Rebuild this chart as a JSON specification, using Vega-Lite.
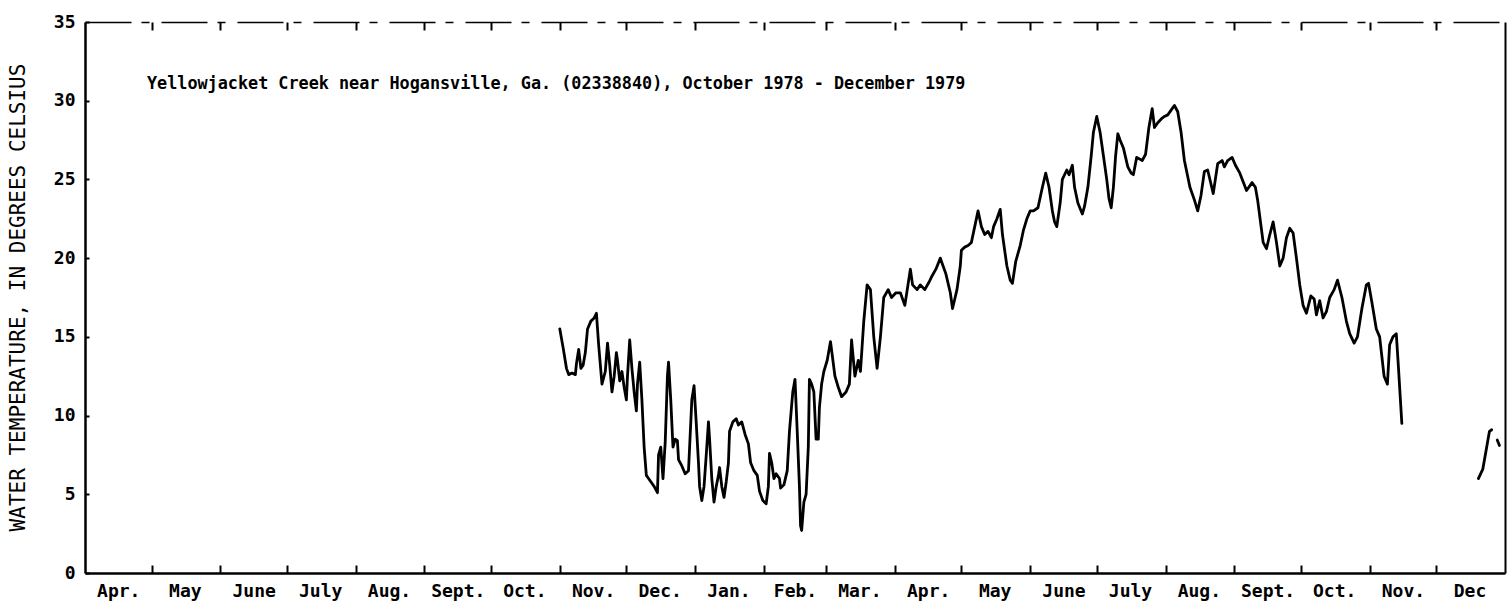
{
  "$schema": "https://vega.github.io/schema/vega-lite/v6.json",
  "width": 1420,
  "height": 551,
  "autosize": "none",
  "padding": {"left": 85, "top": 22, "right": 3, "bottom": 38},
  "background": "white",
  "config": {
    "view": {"stroke": null},
    "font": "DejaVu Sans Mono"
  },
  "title": {
    "text": "Yellowjacket Creek near Hogansville, Ga. (02338840), October 1978 - December 1979",
    "anchor": "start",
    "frame": "group",
    "orient": "top",
    "baseline": "middle",
    "offset": -88,
    "dx": 62,
    "font": "DejaVu Sans Mono",
    "fontSize": 16.8,
    "fontWeight": "bold",
    "color": "black"
  },
  "resolve": {"axis": {"x": "independent", "y": "independent"}},
  "layer": [
    {
      "data": {
        "values": [
          {"date": "1978-11-01T00:00", "temp": 15.5, "run": 1},
          {"date": "1978-11-02T12:00", "temp": 14.3, "run": 1},
          {"date": "1978-11-04T00:00", "temp": 13.0, "run": 1},
          {"date": "1978-11-05T00:00", "temp": 12.6, "run": 1},
          {"date": "1978-11-06T12:00", "temp": 12.7, "run": 1},
          {"date": "1978-11-08T00:00", "temp": 12.6, "run": 1},
          {"date": "1978-11-08T12:00", "temp": 13.3, "run": 1},
          {"date": "1978-11-09T12:00", "temp": 14.2, "run": 1},
          {"date": "1978-11-10T12:00", "temp": 13.0, "run": 1},
          {"date": "1978-11-11T12:00", "temp": 13.2, "run": 1},
          {"date": "1978-11-12T12:00", "temp": 14.0, "run": 1},
          {"date": "1978-11-13T12:00", "temp": 15.5, "run": 1},
          {"date": "1978-11-15T00:00", "temp": 16.0, "run": 1},
          {"date": "1978-11-16T12:00", "temp": 16.2, "run": 1},
          {"date": "1978-11-17T12:00", "temp": 16.5, "run": 1},
          {"date": "1978-11-18T12:00", "temp": 14.5, "run": 1},
          {"date": "1978-11-20T00:00", "temp": 12.0, "run": 1},
          {"date": "1978-11-21T12:00", "temp": 12.8, "run": 1},
          {"date": "1978-11-22T12:00", "temp": 14.6, "run": 1},
          {"date": "1978-11-23T12:00", "temp": 13.2, "run": 1},
          {"date": "1978-11-24T12:00", "temp": 11.5, "run": 1},
          {"date": "1978-11-25T12:00", "temp": 12.5, "run": 1},
          {"date": "1978-11-26T12:00", "temp": 14.0, "run": 1},
          {"date": "1978-11-27T00:00", "temp": 13.5, "run": 1},
          {"date": "1978-11-28T00:00", "temp": 12.2, "run": 1},
          {"date": "1978-11-29T00:00", "temp": 12.8, "run": 1},
          {"date": "1978-11-30T00:00", "temp": 11.8, "run": 1},
          {"date": "1978-12-01T00:00", "temp": 11.0, "run": 1},
          {"date": "1978-12-01T12:00", "temp": 12.5, "run": 1},
          {"date": "1978-12-02T12:00", "temp": 14.8, "run": 1},
          {"date": "1978-12-03T12:00", "temp": 13.0, "run": 1},
          {"date": "1978-12-04T12:00", "temp": 11.5, "run": 1},
          {"date": "1978-12-05T12:00", "temp": 10.3, "run": 1},
          {"date": "1978-12-06T00:00", "temp": 12.0, "run": 1},
          {"date": "1978-12-07T00:00", "temp": 13.4, "run": 1},
          {"date": "1978-12-08T00:00", "temp": 11.0, "run": 1},
          {"date": "1978-12-09T00:00", "temp": 8.0, "run": 1},
          {"date": "1978-12-10T00:00", "temp": 6.2, "run": 1},
          {"date": "1978-12-11T00:00", "temp": 6.0, "run": 1},
          {"date": "1978-12-12T12:00", "temp": 5.7, "run": 1},
          {"date": "1978-12-13T12:00", "temp": 5.5, "run": 1},
          {"date": "1978-12-15T00:00", "temp": 5.1, "run": 1},
          {"date": "1978-12-15T12:00", "temp": 7.5, "run": 1},
          {"date": "1978-12-16T12:00", "temp": 8.0, "run": 1},
          {"date": "1978-12-17T12:00", "temp": 6.0, "run": 1},
          {"date": "1978-12-18T12:00", "temp": 8.3, "run": 1},
          {"date": "1978-12-19T12:00", "temp": 12.5, "run": 1},
          {"date": "1978-12-20T00:00", "temp": 13.4, "run": 1},
          {"date": "1978-12-21T00:00", "temp": 11.0, "run": 1},
          {"date": "1978-12-22T00:00", "temp": 8.0, "run": 1},
          {"date": "1978-12-23T00:00", "temp": 8.5, "run": 1},
          {"date": "1978-12-24T00:00", "temp": 8.4, "run": 1},
          {"date": "1978-12-24T12:00", "temp": 7.2, "run": 1},
          {"date": "1978-12-26T00:00", "temp": 6.8, "run": 1},
          {"date": "1978-12-27T12:00", "temp": 6.3, "run": 1},
          {"date": "1978-12-29T00:00", "temp": 6.5, "run": 1},
          {"date": "1978-12-29T12:00", "temp": 8.0, "run": 1},
          {"date": "1978-12-30T12:00", "temp": 11.0, "run": 1},
          {"date": "1978-12-31T12:00", "temp": 11.9, "run": 1},
          {"date": "1979-01-01T12:00", "temp": 9.5, "run": 1},
          {"date": "1979-01-02T12:00", "temp": 7.0, "run": 1},
          {"date": "1979-01-03T00:00", "temp": 5.5, "run": 1},
          {"date": "1979-01-04T00:00", "temp": 4.6, "run": 1},
          {"date": "1979-01-05T00:00", "temp": 5.5, "run": 1},
          {"date": "1979-01-06T00:00", "temp": 7.5, "run": 1},
          {"date": "1979-01-07T00:00", "temp": 9.6, "run": 1},
          {"date": "1979-01-07T12:00", "temp": 8.5, "run": 1},
          {"date": "1979-01-08T12:00", "temp": 6.0, "run": 1},
          {"date": "1979-01-09T12:00", "temp": 4.5, "run": 1},
          {"date": "1979-01-10T12:00", "temp": 5.5, "run": 1},
          {"date": "1979-01-11T12:00", "temp": 6.2, "run": 1},
          {"date": "1979-01-12T00:00", "temp": 6.7, "run": 1},
          {"date": "1979-01-13T00:00", "temp": 5.5, "run": 1},
          {"date": "1979-01-14T00:00", "temp": 4.8, "run": 1},
          {"date": "1979-01-15T00:00", "temp": 5.8, "run": 1},
          {"date": "1979-01-16T00:00", "temp": 7.0, "run": 1},
          {"date": "1979-01-16T12:00", "temp": 9.0, "run": 1},
          {"date": "1979-01-18T00:00", "temp": 9.6, "run": 1},
          {"date": "1979-01-19T12:00", "temp": 9.8, "run": 1},
          {"date": "1979-01-20T12:00", "temp": 9.4, "run": 1},
          {"date": "1979-01-22T00:00", "temp": 9.6, "run": 1},
          {"date": "1979-01-23T12:00", "temp": 8.8, "run": 1},
          {"date": "1979-01-25T00:00", "temp": 8.2, "run": 1},
          {"date": "1979-01-26T00:00", "temp": 7.0, "run": 1},
          {"date": "1979-01-27T12:00", "temp": 6.5, "run": 1},
          {"date": "1979-01-29T00:00", "temp": 6.2, "run": 1},
          {"date": "1979-01-30T00:00", "temp": 5.2, "run": 1},
          {"date": "1979-01-31T12:00", "temp": 4.6, "run": 1},
          {"date": "1979-02-02T00:00", "temp": 4.4, "run": 1},
          {"date": "1979-02-03T00:00", "temp": 5.5, "run": 1},
          {"date": "1979-02-03T12:00", "temp": 7.6, "run": 1},
          {"date": "1979-02-04T12:00", "temp": 7.0, "run": 1},
          {"date": "1979-02-05T12:00", "temp": 6.0, "run": 1},
          {"date": "1979-02-06T12:00", "temp": 6.3, "run": 1},
          {"date": "1979-02-08T00:00", "temp": 6.0, "run": 1},
          {"date": "1979-02-08T12:00", "temp": 5.4, "run": 1},
          {"date": "1979-02-10T00:00", "temp": 5.6, "run": 1},
          {"date": "1979-02-11T12:00", "temp": 6.5, "run": 1},
          {"date": "1979-02-12T12:00", "temp": 9.0, "run": 1},
          {"date": "1979-02-14T00:00", "temp": 11.5, "run": 1},
          {"date": "1979-02-15T00:00", "temp": 12.3, "run": 1},
          {"date": "1979-02-16T00:00", "temp": 9.0, "run": 1},
          {"date": "1979-02-17T00:00", "temp": 5.5, "run": 1},
          {"date": "1979-02-17T12:00", "temp": 3.0, "run": 1},
          {"date": "1979-02-18T00:00", "temp": 2.7, "run": 1},
          {"date": "1979-02-19T00:00", "temp": 4.5, "run": 1},
          {"date": "1979-02-20T00:00", "temp": 5.0, "run": 1},
          {"date": "1979-02-21T00:00", "temp": 8.0, "run": 1},
          {"date": "1979-02-21T12:00", "temp": 12.3, "run": 1},
          {"date": "1979-02-22T12:00", "temp": 12.0, "run": 1},
          {"date": "1979-02-23T12:00", "temp": 11.5, "run": 1},
          {"date": "1979-02-24T12:00", "temp": 8.5, "run": 1},
          {"date": "1979-02-25T12:00", "temp": 8.5, "run": 1},
          {"date": "1979-02-26T00:00", "temp": 10.5, "run": 1},
          {"date": "1979-02-27T00:00", "temp": 12.0, "run": 1},
          {"date": "1979-02-28T00:00", "temp": 12.8, "run": 1},
          {"date": "1979-03-01T12:00", "temp": 13.5, "run": 1},
          {"date": "1979-03-03T00:00", "temp": 14.7, "run": 1},
          {"date": "1979-03-05T00:00", "temp": 12.5, "run": 1},
          {"date": "1979-03-06T12:00", "temp": 11.8, "run": 1},
          {"date": "1979-03-08T00:00", "temp": 11.2, "run": 1},
          {"date": "1979-03-10T00:00", "temp": 11.5, "run": 1},
          {"date": "1979-03-11T12:00", "temp": 12.0, "run": 1},
          {"date": "1979-03-12T12:00", "temp": 14.8, "run": 1},
          {"date": "1979-03-14T00:00", "temp": 12.5, "run": 1},
          {"date": "1979-03-15T12:00", "temp": 13.5, "run": 1},
          {"date": "1979-03-16T12:00", "temp": 12.8, "run": 1},
          {"date": "1979-03-18T00:00", "temp": 16.0, "run": 1},
          {"date": "1979-03-19T12:00", "temp": 18.3, "run": 1},
          {"date": "1979-03-21T00:00", "temp": 18.0, "run": 1},
          {"date": "1979-03-22T12:00", "temp": 15.0, "run": 1},
          {"date": "1979-03-24T00:00", "temp": 13.0, "run": 1},
          {"date": "1979-03-25T12:00", "temp": 15.0, "run": 1},
          {"date": "1979-03-27T00:00", "temp": 17.5, "run": 1},
          {"date": "1979-03-29T00:00", "temp": 18.0, "run": 1},
          {"date": "1979-03-30T12:00", "temp": 17.5, "run": 1},
          {"date": "1979-04-01T12:00", "temp": 17.8, "run": 1},
          {"date": "1979-04-03T12:00", "temp": 17.8, "run": 1},
          {"date": "1979-04-05T12:00", "temp": 17.0, "run": 1},
          {"date": "1979-04-08T00:00", "temp": 19.3, "run": 1},
          {"date": "1979-04-09T00:00", "temp": 18.3, "run": 1},
          {"date": "1979-04-11T00:00", "temp": 18.0, "run": 1},
          {"date": "1979-04-12T12:00", "temp": 18.3, "run": 1},
          {"date": "1979-04-14T12:00", "temp": 18.0, "run": 1},
          {"date": "1979-04-16T12:00", "temp": 18.5, "run": 1},
          {"date": "1979-04-17T12:00", "temp": 18.8, "run": 1},
          {"date": "1979-04-19T12:00", "temp": 19.3, "run": 1},
          {"date": "1979-04-21T12:00", "temp": 20.0, "run": 1},
          {"date": "1979-04-22T12:00", "temp": 19.6, "run": 1},
          {"date": "1979-04-24T00:00", "temp": 19.0, "run": 1},
          {"date": "1979-04-26T00:00", "temp": 17.8, "run": 1},
          {"date": "1979-04-27T00:00", "temp": 16.8, "run": 1},
          {"date": "1979-04-29T00:00", "temp": 18.0, "run": 1},
          {"date": "1979-04-30T12:00", "temp": 19.5, "run": 1},
          {"date": "1979-05-01T00:00", "temp": 20.5, "run": 1},
          {"date": "1979-05-02T12:00", "temp": 20.7, "run": 1},
          {"date": "1979-05-04T00:00", "temp": 20.8, "run": 1},
          {"date": "1979-05-05T12:00", "temp": 21.0, "run": 1},
          {"date": "1979-05-07T00:00", "temp": 22.0, "run": 1},
          {"date": "1979-05-08T12:00", "temp": 23.0, "run": 1},
          {"date": "1979-05-10T00:00", "temp": 22.0, "run": 1},
          {"date": "1979-05-11T12:00", "temp": 21.5, "run": 1},
          {"date": "1979-05-13T00:00", "temp": 21.7, "run": 1},
          {"date": "1979-05-14T12:00", "temp": 21.3, "run": 1},
          {"date": "1979-05-15T12:00", "temp": 22.0, "run": 1},
          {"date": "1979-05-17T00:00", "temp": 22.5, "run": 1},
          {"date": "1979-05-18T12:00", "temp": 23.1, "run": 1},
          {"date": "1979-05-19T12:00", "temp": 21.5, "run": 1},
          {"date": "1979-05-21T12:00", "temp": 19.5, "run": 1},
          {"date": "1979-05-23T00:00", "temp": 18.6, "run": 1},
          {"date": "1979-05-24T00:00", "temp": 18.4, "run": 1},
          {"date": "1979-05-25T12:00", "temp": 19.8, "run": 1},
          {"date": "1979-05-27T12:00", "temp": 20.8, "run": 1},
          {"date": "1979-05-29T00:00", "temp": 21.8, "run": 1},
          {"date": "1979-05-30T12:00", "temp": 22.5, "run": 1},
          {"date": "1979-06-01T00:00", "temp": 23.0, "run": 1},
          {"date": "1979-06-02T12:00", "temp": 23.0, "run": 1},
          {"date": "1979-06-04T12:00", "temp": 23.2, "run": 1},
          {"date": "1979-06-06T12:00", "temp": 24.5, "run": 1},
          {"date": "1979-06-08T00:00", "temp": 25.4, "run": 1},
          {"date": "1979-06-09T12:00", "temp": 24.5, "run": 1},
          {"date": "1979-06-11T00:00", "temp": 23.0, "run": 1},
          {"date": "1979-06-12T00:00", "temp": 22.3, "run": 1},
          {"date": "1979-06-13T00:00", "temp": 22.0, "run": 1},
          {"date": "1979-06-14T12:00", "temp": 23.5, "run": 1},
          {"date": "1979-06-15T12:00", "temp": 25.0, "run": 1},
          {"date": "1979-06-17T12:00", "temp": 25.6, "run": 1},
          {"date": "1979-06-18T12:00", "temp": 25.3, "run": 1},
          {"date": "1979-06-20T00:00", "temp": 25.9, "run": 1},
          {"date": "1979-06-21T00:00", "temp": 24.5, "run": 1},
          {"date": "1979-06-22T12:00", "temp": 23.5, "run": 1},
          {"date": "1979-06-24T12:00", "temp": 22.8, "run": 1},
          {"date": "1979-06-25T12:00", "temp": 23.3, "run": 1},
          {"date": "1979-06-27T00:00", "temp": 24.5, "run": 1},
          {"date": "1979-06-28T12:00", "temp": 26.5, "run": 1},
          {"date": "1979-06-29T12:00", "temp": 28.0, "run": 1},
          {"date": "1979-07-01T00:00", "temp": 29.0, "run": 1},
          {"date": "1979-07-02T12:00", "temp": 28.0, "run": 1},
          {"date": "1979-07-04T00:00", "temp": 26.5, "run": 1},
          {"date": "1979-07-05T12:00", "temp": 25.0, "run": 1},
          {"date": "1979-07-06T12:00", "temp": 23.8, "run": 1},
          {"date": "1979-07-07T12:00", "temp": 23.2, "run": 1},
          {"date": "1979-07-08T12:00", "temp": 24.5, "run": 1},
          {"date": "1979-07-09T12:00", "temp": 26.5, "run": 1},
          {"date": "1979-07-10T12:00", "temp": 27.9, "run": 1},
          {"date": "1979-07-11T12:00", "temp": 27.5, "run": 1},
          {"date": "1979-07-13T00:00", "temp": 27.0, "run": 1},
          {"date": "1979-07-15T00:00", "temp": 25.8, "run": 1},
          {"date": "1979-07-16T12:00", "temp": 25.4, "run": 1},
          {"date": "1979-07-17T12:00", "temp": 25.3, "run": 1},
          {"date": "1979-07-19T00:00", "temp": 26.4, "run": 1},
          {"date": "1979-07-21T12:00", "temp": 26.2, "run": 1},
          {"date": "1979-07-23T00:00", "temp": 26.6, "run": 1},
          {"date": "1979-07-24T12:00", "temp": 28.3, "run": 1},
          {"date": "1979-07-26T00:00", "temp": 29.5, "run": 1},
          {"date": "1979-07-27T00:00", "temp": 28.3, "run": 1},
          {"date": "1979-07-28T12:00", "temp": 28.6, "run": 1},
          {"date": "1979-07-30T12:00", "temp": 28.9, "run": 1},
          {"date": "1979-07-31T12:00", "temp": 29.0, "run": 1},
          {"date": "1979-08-02T00:00", "temp": 29.1, "run": 1},
          {"date": "1979-08-04T00:00", "temp": 29.5, "run": 1},
          {"date": "1979-08-05T00:00", "temp": 29.7, "run": 1},
          {"date": "1979-08-06T12:00", "temp": 29.3, "run": 1},
          {"date": "1979-08-08T00:00", "temp": 28.0, "run": 1},
          {"date": "1979-08-09T12:00", "temp": 26.2, "run": 1},
          {"date": "1979-08-12T00:00", "temp": 24.5, "run": 1},
          {"date": "1979-08-14T00:00", "temp": 23.7, "run": 1},
          {"date": "1979-08-15T12:00", "temp": 23.0, "run": 1},
          {"date": "1979-08-17T00:00", "temp": 24.0, "run": 1},
          {"date": "1979-08-18T12:00", "temp": 25.5, "run": 1},
          {"date": "1979-08-20T00:00", "temp": 25.6, "run": 1},
          {"date": "1979-08-22T12:00", "temp": 24.1, "run": 1},
          {"date": "1979-08-24T12:00", "temp": 26.0, "run": 1},
          {"date": "1979-08-26T12:00", "temp": 26.2, "run": 1},
          {"date": "1979-08-27T12:00", "temp": 25.8, "run": 1},
          {"date": "1979-08-29T00:00", "temp": 26.2, "run": 1},
          {"date": "1979-08-31T00:00", "temp": 26.4, "run": 1},
          {"date": "1979-09-01T12:00", "temp": 25.9, "run": 1},
          {"date": "1979-09-03T12:00", "temp": 25.4, "run": 1},
          {"date": "1979-09-06T12:00", "temp": 24.3, "run": 1},
          {"date": "1979-09-09T00:00", "temp": 24.8, "run": 1},
          {"date": "1979-09-10T12:00", "temp": 24.5, "run": 1},
          {"date": "1979-09-11T12:00", "temp": 23.7, "run": 1},
          {"date": "1979-09-14T00:00", "temp": 21.0, "run": 1},
          {"date": "1979-09-15T12:00", "temp": 20.6, "run": 1},
          {"date": "1979-09-17T00:00", "temp": 21.5, "run": 1},
          {"date": "1979-09-18T12:00", "temp": 22.3, "run": 1},
          {"date": "1979-09-20T00:00", "temp": 21.0, "run": 1},
          {"date": "1979-09-21T12:00", "temp": 19.5, "run": 1},
          {"date": "1979-09-23T00:00", "temp": 20.0, "run": 1},
          {"date": "1979-09-24T12:00", "temp": 21.3, "run": 1},
          {"date": "1979-09-26T00:00", "temp": 21.9, "run": 1},
          {"date": "1979-09-27T12:00", "temp": 21.6, "run": 1},
          {"date": "1979-09-29T00:00", "temp": 20.0, "run": 1},
          {"date": "1979-09-30T12:00", "temp": 18.3, "run": 1},
          {"date": "1979-10-02T00:00", "temp": 17.0, "run": 1},
          {"date": "1979-10-03T12:00", "temp": 16.5, "run": 1},
          {"date": "1979-10-05T12:00", "temp": 17.6, "run": 1},
          {"date": "1979-10-07T00:00", "temp": 17.4, "run": 1},
          {"date": "1979-10-08T00:00", "temp": 16.4, "run": 1},
          {"date": "1979-10-09T12:00", "temp": 17.3, "run": 1},
          {"date": "1979-10-11T00:00", "temp": 16.2, "run": 1},
          {"date": "1979-10-12T12:00", "temp": 16.6, "run": 1},
          {"date": "1979-10-14T00:00", "temp": 17.5, "run": 1},
          {"date": "1979-10-16T00:00", "temp": 18.0, "run": 1},
          {"date": "1979-10-17T12:00", "temp": 18.6, "run": 1},
          {"date": "1979-10-19T12:00", "temp": 17.5, "run": 1},
          {"date": "1979-10-21T12:00", "temp": 16.0, "run": 1},
          {"date": "1979-10-23T00:00", "temp": 15.2, "run": 1},
          {"date": "1979-10-25T00:00", "temp": 14.6, "run": 1},
          {"date": "1979-10-26T12:00", "temp": 15.0, "run": 1},
          {"date": "1979-10-28T12:00", "temp": 16.8, "run": 1},
          {"date": "1979-10-30T12:00", "temp": 18.3, "run": 1},
          {"date": "1979-10-31T12:00", "temp": 18.4, "run": 1},
          {"date": "1979-11-02T00:00", "temp": 17.2, "run": 1},
          {"date": "1979-11-04T00:00", "temp": 15.5, "run": 1},
          {"date": "1979-11-05T12:00", "temp": 15.0, "run": 1},
          {"date": "1979-11-07T12:00", "temp": 12.5, "run": 1},
          {"date": "1979-11-09T00:00", "temp": 12.0, "run": 1},
          {"date": "1979-11-10T00:00", "temp": 14.5, "run": 1},
          {"date": "1979-11-11T12:00", "temp": 15.0, "run": 1},
          {"date": "1979-11-13T00:00", "temp": 15.2, "run": 1},
          {"date": "1979-11-14T00:00", "temp": 13.0, "run": 1},
          {"date": "1979-11-15T12:00", "temp": 9.5, "run": 1},
          {"date": "1979-12-20T00:00", "temp": 6.0, "run": 2},
          {"date": "1979-12-22T00:00", "temp": 6.6, "run": 2},
          {"date": "1979-12-23T12:00", "temp": 7.8, "run": 2},
          {"date": "1979-12-24T12:00", "temp": 8.6, "run": 2},
          {"date": "1979-12-25T00:00", "temp": 9.0, "run": 2},
          {"date": "1979-12-26T00:00", "temp": 9.1, "run": 2},
          {"date": "1979-12-28T12:00", "temp": 8.45, "run": 3},
          {"date": "1979-12-29T12:00", "temp": 8.1, "run": 3}
        ]
      },
      "mark": {"type": "line", "color": "black", "strokeWidth": 2.8, "strokeJoin": "round", "strokeCap": "round"},
      "encoding": {
        "x": {
          "field": "date",
          "type": "temporal",
          "scale": {"domain": [{"year": 1978, "month": 4, "date": 1}, {"year": 1980, "month": 1, "date": 1}]},
          "axis": {
            "orient": "bottom",
            "title": null,
            "domain": false,
            "ticks": false,
            "grid": false,
            "labelPadding": 9,
            "labelFont": "DejaVu Sans Mono",
            "labelFontSize": 18,
            "labelFontWeight": "bold",
            "labelColor": "black",
            "labelOverlap": false,
            "labelFlush": false,
            "values": [
              {"year": 1978, "month": 4, "date": 16}, {"year": 1978, "month": 5, "date": 16}, {"year": 1978, "month": 6, "date": 16},
              {"year": 1978, "month": 7, "date": 16}, {"year": 1978, "month": 8, "date": 16}, {"year": 1978, "month": 9, "date": 16},
              {"year": 1978, "month": 10, "date": 16}, {"year": 1978, "month": 11, "date": 16}, {"year": 1978, "month": 12, "date": 16},
              {"year": 1979, "month": 1, "date": 16}, {"year": 1979, "month": 2, "date": 15}, {"year": 1979, "month": 3, "date": 16},
              {"year": 1979, "month": 4, "date": 16}, {"year": 1979, "month": 5, "date": 16}, {"year": 1979, "month": 6, "date": 16},
              {"year": 1979, "month": 7, "date": 16}, {"year": 1979, "month": 8, "date": 16}, {"year": 1979, "month": 9, "date": 16},
              {"year": 1979, "month": 10, "date": 16}, {"year": 1979, "month": 11, "date": 16}, {"year": 1979, "month": 12, "date": 16}
            ],
            "labelExpr": "year(datum.value) == 1979 && month(datum.value) == 11 ? 'Dec' : ['Jan.','Feb.','Mar.','Apr.','May','June','July','Aug.','Sept.','Oct.','Nov.','Dec.'][month(datum.value)]"
          }
        },
        "y": {
          "field": "temp",
          "type": "quantitative",
          "scale": {"domain": [0, 35], "nice": false},
          "axis": {
            "orient": "left",
            "title": "WATER TEMPERATURE, IN DEGREES CELSIUS",
            "titleFont": "DejaVu Sans Mono",
            "titleFontSize": 21,
            "titleFontWeight": "normal",
            "titleColor": "black",
            "titleAngle": -90,
            "titleX": -67,
            "titleY": 275,
            "titleAlign": "center",
            "titleBaseline": "middle",
            "values": [0, 5, 10, 15, 20, 25, 30, 35],
            "grid": false,
            "domain": true,
            "domainColor": "black",
            "domainWidth": 2.5,
            "tickColor": "black",
            "tickWidth": 2,
            "tickSize": -4,
            "labelPadding": 14,
            "labelFont": "DejaVu Sans Mono",
            "labelFontSize": 18,
            "labelFontWeight": "bold",
            "labelColor": "black"
          }
        },
        "detail": {"field": "run", "type": "nominal"}
      }
    },
    {
      "data": {"values": []},
      "mark": {"type": "point", "opacity": 0},
      "encoding": {
        "x": {
          "field": "date",
          "type": "temporal",
          "axis": {
            "orient": "bottom",
            "title": null,
            "domain": true,
            "domainColor": "black",
            "domainWidth": 2.5,
            "labels": false,
            "grid": false,
            "tickColor": "black",
            "tickWidth": 2,
            "tickSize": -8,
            "values": [
              {"year": 1978, "month": 5, "date": 1}, {"year": 1978, "month": 6, "date": 1}, {"year": 1978, "month": 7, "date": 1},
              {"year": 1978, "month": 8, "date": 1}, {"year": 1978, "month": 9, "date": 1}, {"year": 1978, "month": 10, "date": 1},
              {"year": 1978, "month": 11, "date": 1}, {"year": 1978, "month": 12, "date": 1}, {"year": 1979, "month": 1, "date": 1},
              {"year": 1979, "month": 2, "date": 1}, {"year": 1979, "month": 3, "date": 1}, {"year": 1979, "month": 4, "date": 1},
              {"year": 1979, "month": 5, "date": 1}, {"year": 1979, "month": 6, "date": 1}, {"year": 1979, "month": 7, "date": 1},
              {"year": 1979, "month": 8, "date": 1}, {"year": 1979, "month": 9, "date": 1}, {"year": 1979, "month": 10, "date": 1},
              {"year": 1979, "month": 11, "date": 1}, {"year": 1979, "month": 12, "date": 1}
            ]
          }
        },
        "y": {
          "field": "temp",
          "type": "quantitative",
          "axis": {
            "orient": "right",
            "title": null,
            "labels": false,
            "ticks": false,
            "grid": false,
            "domain": true,
            "domainColor": "black",
            "domainWidth": 2
          }
        }
      }
    },
    {
      "data": {"values": []},
      "mark": {"type": "point", "opacity": 0},
      "encoding": {
        "x": {
          "field": "date",
          "type": "temporal",
          "axis": {
            "orient": "top",
            "title": null,
            "domain": true,
            "domainColor": "black",
            "domainWidth": 1.5,
            "domainDash": [46, 10, 8, 12],
            "labels": false,
            "grid": false,
            "tickColor": "black",
            "tickWidth": 2,
            "tickSize": -8,
            "values": [
              {"year": 1978, "month": 5, "date": 1}, {"year": 1978, "month": 6, "date": 1}, {"year": 1978, "month": 7, "date": 1},
              {"year": 1978, "month": 8, "date": 1}, {"year": 1978, "month": 9, "date": 1}, {"year": 1978, "month": 10, "date": 1},
              {"year": 1978, "month": 11, "date": 1}, {"year": 1978, "month": 12, "date": 1}, {"year": 1979, "month": 1, "date": 1},
              {"year": 1979, "month": 2, "date": 1}, {"year": 1979, "month": 3, "date": 1}, {"year": 1979, "month": 4, "date": 1},
              {"year": 1979, "month": 5, "date": 1}, {"year": 1979, "month": 6, "date": 1}, {"year": 1979, "month": 7, "date": 1},
              {"year": 1979, "month": 8, "date": 1}, {"year": 1979, "month": 9, "date": 1}, {"year": 1979, "month": 10, "date": 1},
              {"year": 1979, "month": 11, "date": 1}, {"year": 1979, "month": 12, "date": 1}
            ]
          }
        }
      }
    }
  ]
}
